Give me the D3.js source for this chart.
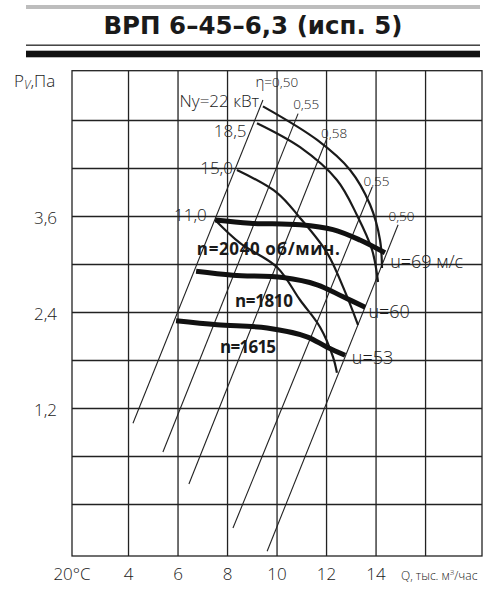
<!DOCTYPE html>
<html><head><meta charset="utf-8">
<script src="https://cdn.jsdelivr.net/npm/d3@7"></script>
<style>
html,body{margin:0;padding:0;background:#fff;}
svg{display:block;}
.light{font-family:"Open Sans","Noto Sans",sans-serif;font-weight:300;fill:#1a1a1a;}
.bold{font-family:"Open Sans","Noto Sans",sans-serif;font-weight:700;fill:#1a1a1a;}
</style></head>
<body>
<script>
// ---- data ----
const title = "ВРП 6–45–6,3 (исп. 5)";
const xGridValues = [4, 6, 8, 10, 12, 14, 16];
const xTickLabels = {4: "4", 6: "6", 8: "8", 10: "10", 12: "12", 14: "14"};
const yGridValues = [0, 0.6, 1.2, 1.8, 2.4, 3.0, 3.6, 4.2, 4.8];
const yTickLabels = {1.2: "1,2", 2.4: "2,4", 3.6: "3,6"};

// fan speed curves [Q, P]
const curveN2040 = [[7.52,3.55],[8.93,3.51],[10.95,3.49],[12.28,3.43],[13.37,3.30],[14.38,3.14]];
const curveN1810 = [[6.75,2.91],[8.24,2.86],[10.26,2.83],[11.64,2.74],[12.69,2.59],[13.58,2.46]];
const curveN1615 = [[5.94,2.29],[7.60,2.24],[9.62,2.20],[11.23,2.09],[12.04,1.96],[12.77,1.86]];

// power curves Ny [Q, P]
const powerN22  = [[9.45,4.97],[11.64,4.55],[12.97,4.175],[13.78,3.74],[14.18,3.30],[14.26,2.95]];
const power185  = [[9.21,4.76],[10.95,4.46],[12.44,4.05],[13.25,3.61],[13.86,3.175],[14.10,2.775]];
const power150  = [[8.40,4.175],[10.02,3.89],[10.95,3.575],[12.04,3.14],[12.69,2.71],[13.29,2.24]];
const power110  = [[7.52,3.55],[8.53,3.26],[10.02,2.96],[10.95,2.55],[11.76,2.21],[12.28,1.84],[12.44,1.64]];

// efficiency lines (straight) [Q, P]
const eta050a = [[9.45,5.05],[4.20,1.01]];
const eta055a = [[10.87,4.88],[5.41,0.65]];
const eta058  = [[12.04,4.575],[6.46,0.25]];
const eta055b = [[13.86,3.96],[8.24,-0.30]];
const eta050b = [[14.91,3.49],[9.62,-0.59]];

// annotation texts with anchor in data units [Q, P]
const thinLabels = [
  {t:"Ny=22 кВт", q:9.30, p:5.04, a:"end", s:17},
  {t:"18,5", q:8.79, p:4.66, a:"end", s:17},
  {t:"15,0", q:8.24, p:4.20, a:"end", s:17},
  {t:"11,0", q:7.18, p:3.61, a:"end", s:17},
  {t:"0,55", q:10.67, p:5.00, a:"start", s:13.5},
  {t:"0,58", q:11.80, p:4.64, a:"start", s:13.5},
  {t:"0,55", q:13.51, p:4.04, a:"start", s:13.5},
  {t:"0,50", q:14.52, p:3.60, a:"start", s:13.5},
  {t:"u=69 м/с", q:14.59, p:3.025, a:"start", s:18},
  {t:"u=60", q:13.71, p:2.40, a:"start", s:18},
  {t:"u=53", q:13.04, p:1.825, a:"start", s:18}
];
const boldLabels = [
  {t:"n=2040 об/мин.", q:6.78, p:3.19, w:143},
  {t:"n=1810", q:8.32, p:2.54, w:58},
  {t:"n=1615", q:7.72, p:1.96, w:56}
];

// ---- drawing ----
const W = 486, H = 591;
const svg = d3.select("body").append("svg").attr("width", W).attr("height", H);

// header bars
svg.append("rect").attr("x",26).attr("y",5).attr("width",454).attr("height",4).attr("fill","#bdbdbd");
svg.append("text").attr("x",253).attr("y",33.5).attr("text-anchor","middle")
  .attr("font-family","DejaVu Sans").attr("font-weight","bold").attr("font-size",24.5)
  .attr("fill","#1a1a1a").text(title);
svg.append("rect").attr("x",26).attr("y",44.5).attr("width",454).attr("height",1.4).attr("fill","#333");
svg.append("rect").attr("x",26).attr("y",50.7).attr("width",454).attr("height",6.6).attr("fill","#111");

const pLeft = 72, pRight = 482, pTop = 70.7, pBottom = 556;
const x = d3.scaleLinear().domain([1.737, 18.30]).range([pLeft, pRight]);
const y = d3.scaleLinear().domain([-0.65, 5.416]).range([pBottom, pTop]);

// grid via axes
const gx = svg.append("g").attr("transform",`translate(0,${pBottom})`)
  .call(d3.axisBottom(x).tickValues(xGridValues).tickSize(-(pBottom-pTop)).tickPadding(12)
    .tickFormat(d => xTickLabels[d] || ""));
const gy = svg.append("g").attr("transform",`translate(${pLeft},0)`)
  .call(d3.axisLeft(y).tickValues(yGridValues).tickSize(-(pRight-pLeft)).tickPadding(15)
    .tickFormat(d => yTickLabels[d] || ""));
[gx, gy].forEach(g => {
  g.select(".domain").remove();
  g.selectAll(".tick line").attr("stroke","#222").attr("stroke-width",1.3);
  g.selectAll(".tick text").attr("class","light").attr("font-size",17).attr("fill","#1a1a1a");
});
gy.selectAll(".tick text").attr("x",-15).attr("text-anchor","end").attr("dy","0.42em");

// frame
svg.append("rect").attr("x",pLeft).attr("y",pTop).attr("width",pRight-pLeft).attr("height",pBottom-pTop)
  .attr("fill","none").attr("stroke","#222").attr("stroke-width",1.3);

// axis captions
svg.append("text").attr("class","light").attr("x",x(x.domain()[0])).attr("y",pBottom+12)
  .attr("dy","0.71em").attr("text-anchor","middle").attr("font-size",17).text("20°C");
const qt = svg.append("text").attr("class","light").attr("x",401).attr("y",580).attr("font-size",12);
qt.append("tspan").text("Q, тыс. м");
qt.append("tspan").attr("font-size",8).attr("dy",-5).text("3");
qt.append("tspan").attr("dy",5).text("/час");
const pt = svg.append("text").attr("class","light").attr("x",14).attr("y",87).attr("font-size",17);
pt.append("tspan").text("P");
pt.append("tspan").attr("font-size",12).attr("font-style","italic").attr("dy",2).text("V");
pt.append("tspan").attr("dy",-2).text(",Па");

const line = d3.line().x(d => x(d[0])).y(d => y(d[1]));
const smooth = d3.line().x(d => x(d[0])).y(d => y(d[1])).curve(d3.curveCatmullRom.alpha(0.5));

// efficiency lines
[eta050a, eta055a, eta058, eta055b, eta050b].forEach(s =>
  svg.append("path").attr("d", line(s)).attr("fill","none").attr("stroke","#222").attr("stroke-width",1.1));

// power curves
[powerN22, power185, power150, power110].forEach(s =>
  svg.append("path").attr("d", smooth(s)).attr("fill","none").attr("stroke","#1a1a1a").attr("stroke-width",2.2));

// speed curves
[curveN2040, curveN1810, curveN1615].forEach(s =>
  svg.append("path").attr("d", smooth(s)).attr("fill","none").attr("stroke","#111").attr("stroke-width",5));

// labels
thinLabels.forEach(l => svg.append("text").attr("class","light")
  .attr("x", x(l.q)).attr("y", y(l.p)).attr("dy","0.36em").attr("text-anchor", l.a)
  .attr("font-size", l.s).text(l.t));
const eta = svg.append("text").attr("class","light").attr("x", x(9.15)).attr("y", y(5.27)).attr("dy","0.36em").attr("font-size",13.5);
eta.append("tspan").attr("font-size",15).text("η");
eta.append("tspan").text("=0,50");
boldLabels.forEach(l => svg.append("text").attr("class","bold")
  .attr("x", x(l.q)).attr("y", y(l.p)).attr("dy","0.36em").attr("font-size",17)
  .attr("textLength", l.w).attr("lengthAdjust","spacing").text(l.t));
</script>
</body></html>
